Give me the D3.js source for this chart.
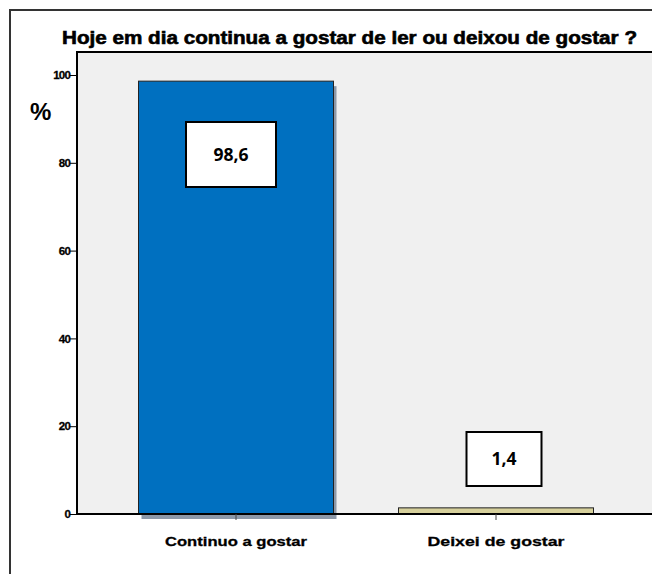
<!DOCTYPE html>
<html>
<head>
<meta charset="utf-8">
<script src="https://cdn.jsdelivr.net/npm/d3@7"></script>
<style>
  body { margin: 0; background: #fff; }
  svg { display: block; }
</style>
</head>
<body>
<div id="chart"></div>
<script>
// values
var categories = ["Continuo a gostar", "Deixei de gostar"];
var percents = [98.6, 1.4];
var valueLabels = ["98,6", "1,4"];
var yTicks = [0, 20, 40, 60, 80, 100];
var barColors = ["#0070c0", "#d6d09c"];

var W = 652, H = 574;
var plot = {left: 77, top: 52, right: 660, bottom: 514};

var svg = d3.select("#chart").append("svg")
  .attr("width", W)
  .attr("height", H);

// outer frame (runs past the picture on right and bottom)
svg.append("rect")
  .attr("x", 10).attr("y", 10)
  .attr("width", 700).attr("height", 700)
  .attr("fill", "none")
  .attr("stroke", "#333")
  .attr("stroke-width", 2);

// title
svg.append("text")
  .attr("x", 62).attr("y", 44)
  .attr("font-family", "Liberation Sans, Arial, sans-serif")
  .attr("font-weight", "bold")
  .attr("font-size", 18)
  .attr("stroke", "#000")
  .attr("stroke-width", 0.6)
  .attr("textLength", 575)
  .attr("lengthAdjust", "spacingAndGlyphs")
  .text("Hoje em dia continua a gostar de ler ou deixou de gostar ?");

// plot background
svg.append("rect")
  .attr("x", plot.left).attr("y", plot.top)
  .attr("width", plot.right - plot.left)
  .attr("height", plot.bottom - plot.top)
  .attr("fill", "#f0f0f0")
  .attr("stroke", "#000")
  .attr("stroke-width", 2);

var y = d3.scaleLinear()
  .domain([0, 100])
  .range([plot.bottom, 75]);

var x = d3.scaleBand()
  .domain(categories)
  .range([106, 626])
  .paddingInner(0.25)
  .paddingOuter(0.125);

// y axis
var yAxis = svg.append("g")
  .attr("transform", "translate(" + plot.left + ",0)")
  .call(d3.axisLeft(y).tickValues(yTicks).tickSize(7).tickSizeOuter(0));
yAxis.select(".domain").remove();
yAxis.selectAll("line").attr("stroke", "#000").attr("stroke-width", 1);
yAxis.selectAll("text")
  .attr("x", -7)
  .attr("font-family", "Liberation Sans, Arial, sans-serif")
  .attr("font-weight", "bold")
  .attr("font-size", 11.5)
  .attr("letter-spacing", -0.8)
  .attr("stroke", "#000")
  .attr("stroke-width", 0.3)
  .attr("fill", "#000");

svg.append("text")
  .attr("x", 30).attr("y", 120)
  .attr("font-family", "Liberation Sans, Arial, sans-serif")
  .attr("font-weight", "bold")
  .attr("font-size", 24)
  .text("%");

// bar shadows (only visible on the tall bar)
svg.selectAll(".shadow")
  .data(percents.filter(function(d){ return d > 5; }))
  .enter().append("rect")
  .attr("class", "shadow")
  .attr("x", function(d, i){ return x(categories[i]) + 3; })
  .attr("y", function(d){ return y(d) + 5; })
  .attr("width", x.bandwidth())
  .attr("height", function(d){ return plot.bottom - y(d); })
  .attr("fill", "#8c98a8");

// bars
svg.selectAll(".bar")
  .data(percents)
  .enter().append("rect")
  .attr("class", "bar")
  .attr("x", function(d, i){ return x(categories[i]); })
  .attr("y", function(d){ return y(d); })
  .attr("width", x.bandwidth())
  .attr("height", function(d){ return plot.bottom - y(d); })
  .attr("fill", function(d, i){ return barColors[i]; })
  .attr("stroke", "#222")
  .attr("stroke-width", 1);

// x axis line and ticks
var xAxis = svg.append("g")
  .attr("transform", "translate(0," + plot.bottom + ")")
  .call(d3.axisBottom(x).tickSize(6).tickSizeOuter(0));
xAxis.select(".domain")
  .attr("d", "M" + plot.left + ",0H" + plot.right)
  .attr("stroke", "#000").attr("stroke-width", 2);
xAxis.selectAll("line").attr("stroke", "#444");
var catWidth = [142, 137];
xAxis.selectAll("text")
  .attr("y", 32)
  .attr("dy", 0)
  .attr("font-family", "Liberation Sans, Arial, sans-serif")
  .attr("font-weight", "bold")
  .attr("font-size", 13.5)
  .attr("stroke", "#000")
  .attr("stroke-width", 0.3)
  .attr("textLength", function(d, i){ return catWidth[i]; })
  .attr("lengthAdjust", "spacingAndGlyphs")
  .attr("fill", "#000");

// value label boxes
var boxW = [90, 75], boxH = [65, 54], boxDx = [-5, 8], boxTop = [122, 432];
var lab = svg.selectAll(".lab")
  .data(percents)
  .enter().append("g")
  .attr("class", "lab")
  .attr("transform", function(d, i){
    return "translate(" + (x(categories[i]) + x.bandwidth() / 2 + boxDx[i]) + "," + boxTop[i] + ")";
  });
lab.append("rect")
  .attr("x", function(d, i){ return -boxW[i] / 2; })
  .attr("y", 0)
  .attr("width", function(d, i){ return boxW[i]; })
  .attr("height", function(d, i){ return boxH[i]; })
  .attr("fill", "#fff")
  .attr("stroke", "#000")
  .attr("stroke-width", 2);
lab.append("text")
  .attr("x", 0)
  .attr("y", function(d, i){ return boxH[i] / 2 + 6; })
  .attr("text-anchor", "middle")
  .attr("font-family", "Open Sans, Noto Sans, sans-serif")
  .attr("font-weight", "bold")
  .attr("font-size", 17.5)
  .text(function(d, i){ return valueLabels[i]; });
</script>
</body>
</html>
